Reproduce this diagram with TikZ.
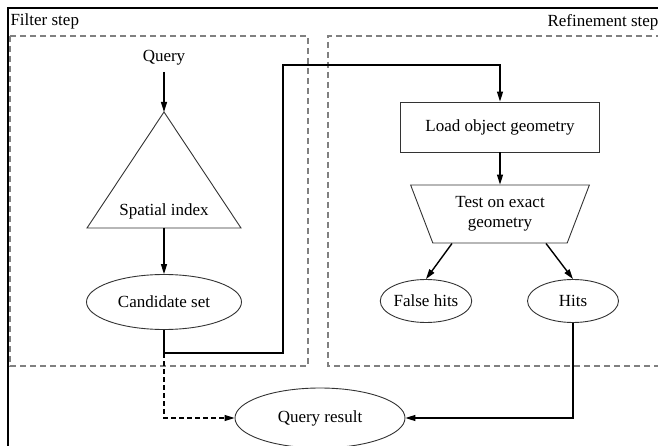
\documentclass[tikz,border=0pt]{standalone}
\usepackage{fontspec}
\setmainfont{Liberation Serif}
\usetikzlibrary{arrows.meta,shapes.geometric}

\begin{document}
\begin{tikzpicture}[x=1pt,y=-1pt,
  font=\fontsize{17}{20}\selectfont,
  shapeline/.style={draw=black!80,line width=0.9pt},
  conn/.style={draw=black,line width=1.4pt,-{Triangle[length=10pt,width=6pt]}},
  region/.style={draw=black!50,dash pattern=on 6pt off 4pt,line width=1.2pt},
  oval/.style={shapeline,ellipse,inner sep=0pt}]
\useasboundingbox (0,0) rectangle (658,446);
% frame and the two steps:
\path[draw=black,line width=2pt] (662,8) -- (8,8) -- (8,450);
\path[region] (10,36) rectangle (308,366);
\path[region] (662,36) -- (328,36) -- (328,366) -- (662,366);
\node[anchor=west] (filterlbl) at (7,21) {Filter step};
\node[anchor=east] (refinelbl) at (662,22) {Refinement step};
% filter step:
\node (query) at (164,58) {Query};
\coordinate (tritop) at (164,112);
\coordinate (tribase) at (164,228);
\path[shapeline] (tritop) -- (241,228) -- (87,228) -- cycle;
\node (spatial) at (164,211) {Spatial index};
\node[oval,minimum width=155pt,minimum height=55pt] (cand) at (164,302) {Candidate set};
% refinement step:
\node[shapeline,minimum width=199pt,minimum height=50pt] (load) at (500,127) {Load object geometry};
\node[shapeline,trapezium,shape border rotate=180,trapezium angle=67,
  trapezium stretches=true,minimum width=179pt,minimum height=58pt,
  inner sep=0pt,align=center] (test) at (500,214) {Test on exact\\geometry};
\node[oval,minimum width=90pt,minimum height=43pt] (fhits) at (426,301) {False hits};
\node[oval,minimum width=91pt,minimum height=43pt] (hits) at (573,301) {Hits};
% result:
\node[oval,minimum width=170pt,minimum height=60pt] (result) at (320,418) {Query result};
% connectors:
\coordinate (split) at (164,353);
\coordinate (turn) at (283,65);
\draw[conn,shorten <=3pt] (query) -- (tritop);
\draw[conn] (tribase) -- (cand);
\draw[line width=1.4pt] (cand.south) -- (split);
\draw[conn] (split) -| (turn) -| (load.north);
\draw[conn] (load) -- (test);
\draw[conn] ([xshift=-48pt]test.south) -- (fhits.north);
\draw[conn] ([xshift=46pt]test.south) -- (hits.north);
\draw[conn] (hits.south) |- (result.east);
\draw[conn,line width=1.2pt,dash pattern=on 5pt off 3pt] (split) |- (result.west);
\end{tikzpicture}
\end{document}
